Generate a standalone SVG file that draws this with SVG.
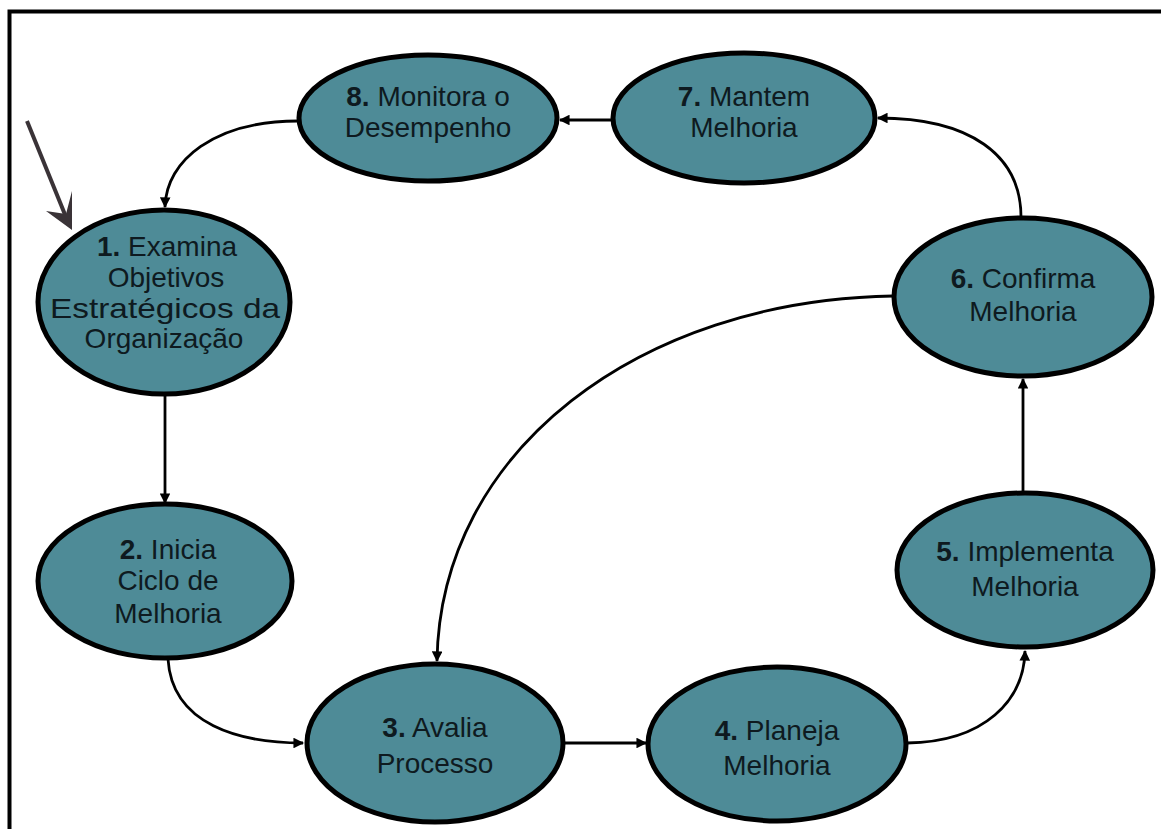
<svg xmlns="http://www.w3.org/2000/svg" width="1161" height="829" viewBox="0 0 1161 829">
<style>
.node ellipse{fill:#4e8b97;stroke:#000;stroke-width:5}
.node text{font-family:"Liberation Sans",Arial,sans-serif;font-size:28px;fill:#0e1a20;text-anchor:middle}
.node tspan.n{font-weight:bold}
.conn path,.conn line{fill:none;stroke:#000;stroke-width:2.8;marker-end:url(#ah)}
</style>
<defs>
<marker id="ah" viewBox="0 0 10 10" refX="9" refY="5" markerWidth="4.4" markerHeight="3.8" orient="auto" markerUnits="strokeWidth">
<path d="M0,0 L10,5 L0,10 Z" fill="#000"/>
</marker>
</defs>
<rect width="1161" height="829" fill="#fff"/>
<path d="M9.5,829 V11.5 H1161" fill="none" stroke="#000" stroke-width="4"/>

<g id="start-arrow">
<line x1="27" y1="121" x2="68" y2="222" stroke="#3a3337" stroke-width="4"/>
<path d="M72,230 L46,211 L66,214 L72,191 Z" fill="#3a3337"/>
</g>

<g class="conn" id="connectors">
<path d="M298,121 C215,121 166,160 165,207"/>
<line x1="612" y1="120" x2="560" y2="120"/>
<path d="M1021,217 C1021,155 970,118 878,118"/>
<line x1="165" y1="394" x2="165" y2="503"/>
<path d="M168,659 C172,725 240,743 303,743"/>
<line x1="564" y1="743" x2="646" y2="743"/>
<path d="M907,743 C985,742 1024,700 1025,651"/>
<line x1="1023" y1="492" x2="1023" y2="379"/>
<path d="M893,296 C640,300 440,450 437,661"/>
</g>

<g class="node" id="n8">
<ellipse cx="428" cy="118" rx="129" ry="63"/>
<text x="428" y="106"><tspan class="n">8.</tspan> Monitora o</text>
<text x="428" y="137">Desempenho</text>
</g>
<g class="node" id="n7">
<ellipse cx="744" cy="118" rx="131" ry="65"/>
<text x="744" y="106"><tspan class="n">7.</tspan> Mantem</text>
<text x="744" y="137">Melhoria</text>
</g>
<g class="node" id="n1">
<ellipse cx="164" cy="302" rx="126" ry="92"/>
<text x="167" y="256"><tspan class="n">1.</tspan> Examina</text>
<text x="166" y="287">Objetivos</text>
<text x="165" y="318" textLength="230" lengthAdjust="spacingAndGlyphs">Estratégicos da</text>
<text x="164" y="348">Organização</text>
</g>
<g class="node" id="n2">
<ellipse cx="165" cy="581" rx="127" ry="77"/>
<text x="168" y="559"><tspan class="n">2.</tspan> Inicia</text>
<text x="168" y="590">Ciclo de</text>
<text x="168" y="623">Melhoria</text>
</g>
<g class="node" id="n3">
<ellipse cx="435" cy="743" rx="128" ry="79"/>
<text x="435" y="737"><tspan class="n">3.</tspan> Avalia</text>
<text x="435" y="773">Processo</text>
</g>
<g class="node" id="n4">
<ellipse cx="777" cy="744" rx="129" ry="77"/>
<text x="777" y="740"><tspan class="n">4.</tspan> Planeja</text>
<text x="777" y="775">Melhoria</text>
</g>
<g class="node" id="n5">
<ellipse cx="1025" cy="570" rx="128" ry="77"/>
<text x="1025" y="561"><tspan class="n">5.</tspan> Implementa</text>
<text x="1025" y="596">Melhoria</text>
</g>
<g class="node" id="n6">
<ellipse cx="1023" cy="297" rx="129" ry="79"/>
<text x="1023" y="288"><tspan class="n">6.</tspan> Confirma</text>
<text x="1023" y="321">Melhoria</text>
</g>
</svg>
